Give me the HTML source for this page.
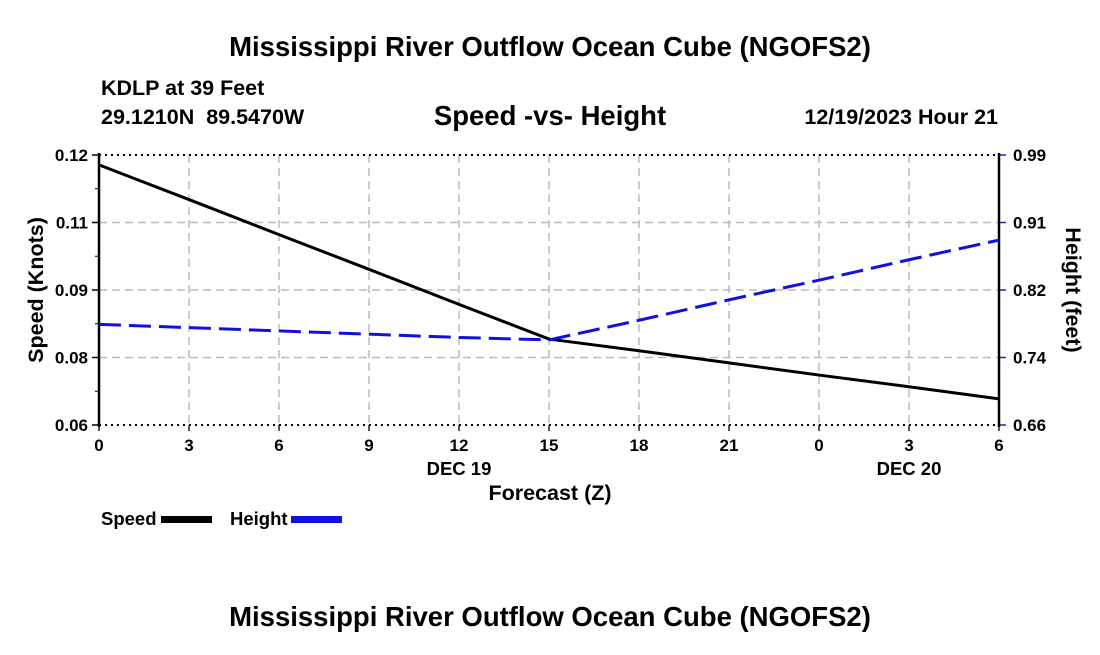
<!DOCTYPE html>
<html><head><meta charset="utf-8"><style>
body{margin:0;background:#fff;width:1100px;height:650px;overflow:hidden;font-family:"Liberation Sans",sans-serif;}
svg text{font-family:"Liberation Sans",sans-serif;font-weight:bold;fill:#000;}
</style></head><body>
<svg id="chart" width="1100" height="650" xmlns="http://www.w3.org/2000/svg">
<text x="550" y="56" font-size="27.5" text-anchor="middle">Mississippi River Outflow Ocean Cube (NGOFS2)</text>
<text x="101" y="95" font-size="21.5">KDLP at 39 Feet</text>
<text x="101" y="124" font-size="21.5" xml:space="preserve">29.1210N  89.5470W</text>
<text x="550" y="125" font-size="27.5" text-anchor="middle">Speed -vs- Height</text>
<text x="998" y="124" font-size="21.5" text-anchor="end">12/19/2023 Hour 21</text>
<text x="550" y="500" font-size="21.5" text-anchor="middle">Forecast (Z)</text>
<text transform="translate(43,290) rotate(-90)" font-size="21.5" text-anchor="middle">Speed (Knots)</text>
<text transform="translate(1066,290) rotate(90)" font-size="21.5" text-anchor="middle">Height (feet)</text>
<text x="101" y="525" font-size="18.5">Speed</text>
<rect x="161" y="516" width="51" height="7" fill="#000"/>
<text x="230" y="525" font-size="18.5">Height</text>
<rect x="291" y="516" width="51" height="7" fill="#1010e0"/>
<text x="550" y="626" font-size="27.5" text-anchor="middle">Mississippi River Outflow Ocean Cube (NGOFS2)</text>
<g id="plot"></g>
</svg>
<script>
const xTicks=[0,3,6,9,12,15,18,21,24,27,30];
const xTickLabels=["0","3","6","9","12","15","18","21","0","3","6"];
const dayLabels=[{h:12,t:"DEC 19"},{h:27,t:"DEC 20"}];
const leftTickLabels=["0.12","0.11","0.09","0.08","0.06"];
const rightTickLabels=["0.99","0.91","0.82","0.74","0.66"];
const hours=[0,3,6,9,12,15,18,21,24,27,30];
const speed=[0.1178,0.1101,0.1023,0.0946,0.0868,0.0791,0.0765,0.0738,0.0711,0.0685,0.0658];
const height=[0.783,0.779,0.775,0.771,0.767,0.764,0.788,0.813,0.837,0.862,0.886];
const L=99,R=999,T=155,B=425;
const X=h=>L+(h-0)/30*(R-L);
const YL=v=>B-(v-0.06)/0.06*(B-T);
const YR=v=>B-(v-0.66)/0.33*(B-T);
const g=document.getElementById('plot');
const NS="http://www.w3.org/2000/svg";
function mk(tag,attrs){const e=document.createElementNS(NS,tag);for(const k in attrs)e.setAttribute(k,attrs[k]);g.appendChild(e);return e;}
xTicks.forEach((h,i)=>{
 if(i>0&&i<xTicks.length-1){const gl=mk('line',{x1:X(h),x2:X(h),y1:T,y2:B,stroke:'#bbb','stroke-width':1.5,'stroke-dasharray':'8,5'});
 
 }
 const tk=mk('line',{x1:X(h),x2:X(h),y1:B,y2:B+6,stroke:'#555','stroke-width':2});
 
 
 const t=mk('text',{x:X(h),y:B+26,'font-size':17,'text-anchor':'middle'});t.textContent=xTickLabels[i];
 
 
});
dayLabels.forEach(d=>{const t=mk('text',{x:X(d.h),y:B+50,'font-size':18.5,'text-anchor':'middle'});t.textContent=d.t;
 
 });
leftTickLabels.forEach((lab,i)=>{
 const y=T+i*(B-T)/4;
 if(i>0&&i<4){const gl=mk('line',{x1:L,x2:R,y1:y,y2:y,stroke:'#bbb','stroke-width':1.5,'stroke-dasharray':'8,5'});
 
 }
 const tk=mk('line',{x1:L-7,x2:L,y1:y,y2:y,stroke:'#000','stroke-width':1.5});
 
 
 if(i<4){const m=mk('line',{x1:L-4,x2:L,y1:y+(B-T)/8,y2:y+(B-T)/8,stroke:'#000','stroke-width':1});
 
 }
 const t=mk('text',{x:L-11,y:y+6,'font-size':17,'text-anchor':'end'});t.textContent=lab;
 
 
 const tr=mk('line',{x1:R,x2:R+7,y1:y,y2:y,stroke:'#2020c0','stroke-width':1.5});
 
 
 const t2=mk('text',{x:R+14,y:y+6,'font-size':17});t2.textContent=rightTickLabels[i];
 
 
});
[T,B].forEach(y=>{const l=mk('line',{x1:L,x2:R,y1:y,y2:y,stroke:'#000','stroke-width':2,'stroke-dasharray':'2,4'});
 
 });
[L,R].forEach(x=>{const l=mk('line',{x1:x,x2:x,y1:T-2,y2:B+2,stroke:'#000','stroke-width':2.5});
 
 });
const sp=mk('polyline',{points:hours.map((h,i)=>X(h)+','+YL(speed[i])).join(' '),fill:'none',stroke:'#000','stroke-width':3});


const hl=mk('polyline',{points:hours.map((h,i)=>X(h)+','+YR(height[i])).join(' '),fill:'none',stroke:'#1010e0','stroke-width':3,'stroke-dasharray':'22,8'});


</script>
</body></html>
